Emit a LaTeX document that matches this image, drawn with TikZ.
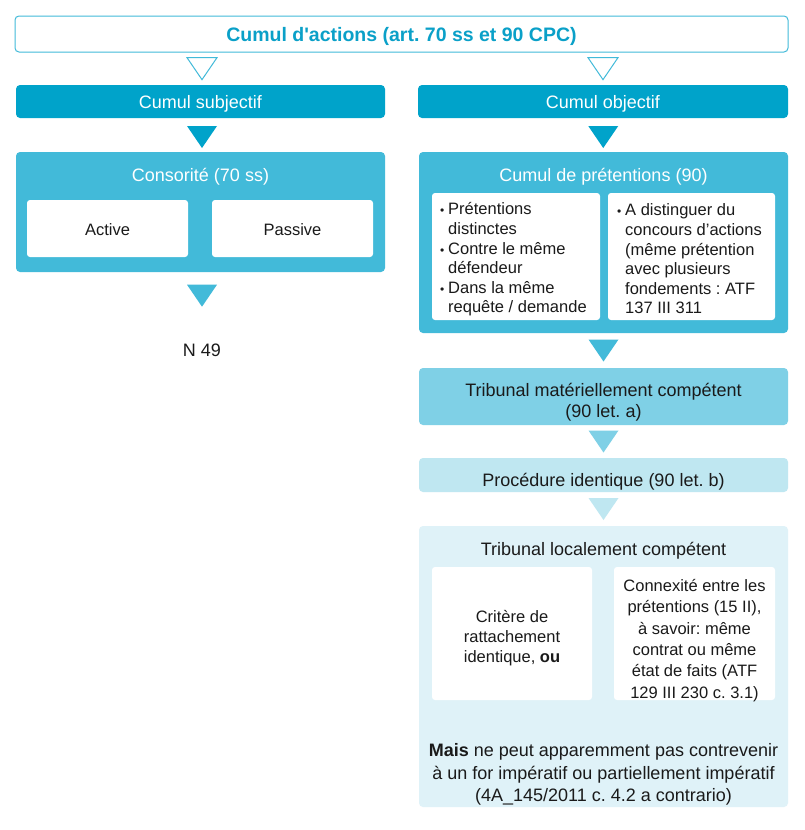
\documentclass[tikz,border=0pt]{standalone}
\usepackage{fontspec}
\setmainfont{Liberation Sans}[Ligatures=TeXOff]
\usetikzlibrary{calc}
\definecolor{cdark}{HTML}{00A3CA}
\definecolor{cmed}{HTML}{42BAD9}
\definecolor{clight}{HTML}{7FD0E6}
\definecolor{clighter}{HTML}{BFE7F1}
\definecolor{clightest}{HTML}{DFF2F8}
\definecolor{ctext}{HTML}{1A1A1A}
\definecolor{ctitle}{HTML}{0AA0C8}
\newcommand\bul{\makebox[8pt][l]{\fontsize{12}{12}\selectfont •}}
\newcommand\ind{\makebox[8pt]{}}
\frenchspacing
\begin{document}
\frenchspacing
\begin{tikzpicture}[x=1pt,y=-1pt,
  bx/.style 2 args={minimum width=#1pt, minimum height=#2pt, inner sep=0pt, rounded corners=4pt},
  hdr/.style={text=white, font=\fontsize{18}{21}\selectfont, inner sep=0pt},
  bodytxt/.style={text=ctext, font=\fontsize{16.5}{19.6}\selectfont, inner sep=0pt},
  bigtxt/.style={text=ctext, font=\fontsize{18}{21}\selectfont, inner sep=0pt, align=center},
  wbox/.style={fill=white, rounded corners=3pt},
  arrowtri/.pic={\path[pic actions] (-15,-11) -- (15,-11) -- (0,11) -- cycle;}
]
\useasboundingbox (0,0) rectangle (804,830);
\fill[white] (0,0) rectangle (804,830);

% title
\node[bx={773}{36}, draw=cmed, line width=1pt, fill=white] (title) at (401.5,34) {};
\node[text=ctitle, inner sep=0pt, font=\fontsize{19.5}{22}\selectfont\bfseries] (titleT) at (401.5,36) {Cumul d'actions (art. 70 ss et 90 CPC)};

% level 1
\node[bx={369}{33}, fill=cdark] (subj) at (200.5,101.5) {};
\node[hdr] (subjT) at (200.5,104) {Cumul subjectif};
\node[bx={370}{33}, fill=cdark] (obj) at (603,101.5) {};
\node[hdr] (objT) at (603,104) {Cumul objectif};

% left column
\node[bx={369}{120}, fill=cmed] (cons) at (200.5,212) {};
\node[hdr] (consT) at (200.5,177) {Consorité (70 ss)};
\node[bx={161}{57}, wbox] (active) at (107.5,228.5) {};
\node[bodytxt] (activeT) at (107.5,230) {Active};
\node[bx={161}{57}, wbox] (passive) at (292.5,228.5) {};
\node[bodytxt] (passiveT) at (292.5,230) {Passive};
\node[bigtxt] (n49) at (202,350) {N 49};

% right column
\node[bx={369}{181}, fill=cmed] (cumul) at (603.5,242.5) {};
\node[hdr] (cumulT) at (603.5,177) {Cumul de prétentions (90)};
\node[bx={168}{127}, wbox] (bl) at (516,256.5) {};
\node[bx={167}{127}, wbox] (br) at (691.5,256.5) {};
\node[bodytxt, align=left, anchor=west] (blT) at (440,259.5)
  {\bul Prétentions\\\ind distinctes\\\bul Contre le même\\\ind défendeur\\\bul Dans la même\\\ind requête / demande};
\node[bodytxt, align=left, anchor=west] (brT) at (617,259)
  {\bul A distinguer du\\\ind concours d’actions\\\ind (même prétention\\\ind avec plusieurs\\\ind fondements : ATF\\\ind 137 III 311};

\node[bx={369}{57}, fill=clight] (trib) at (603.5,396.5) {};
\node[bigtxt] (tribT) at (603.5,402.5) {Tribunal matériellement compétent\\(90 let. a)};
\node[bx={369}{34}, fill=clighter] (proc) at (603.5,475) {};
\node[bigtxt] (procT) at (603.5,482) {Procédure identique (90 let. b)};
\node[bx={369}{281}, fill=clightest] (loc) at (603.5,666.5) {};
\node[bigtxt] (locT) at (603.5,551) {Tribunal localement compétent};
\node[bx={160}{133}, wbox] (ll) at (512,633.5) {};
\node[bodytxt, align=center, font=\fontsize{16.5}{20}\selectfont] (llT) at (512,638.5)
  {Critère de\\rattachement\\identique, \textbf{ou}};
\node[bx={161}{133}, wbox] (lr) at (694.5,633.5) {};
\node[bodytxt, align=center, font=\fontsize{16.5}{21.3}\selectfont] (lrT) at (694.5,640.5)
  {Connexité entre les\\prétentions (15 II),\\à savoir: même\\contrat ou même\\état de faits (ATF\\129 III 230 c. 3.1)};
\node[bigtxt, font=\fontsize{18}{22.5}\selectfont] (mais) at (603.5,774.5)
  {\textbf{Mais} ne peut apparemment pas contrevenir\\à un for impératif ou partiellement impératif\\(4A\_145/2011 c. 4.2 a contrario)};

% triangles (connectors)
\pic[draw=cmed, fill=white, line width=1pt] at ($($(title.south -| subj.north)!0.5!(subj.north)$)+(1.5,0)$) {arrowtri};
\pic[draw=cmed, fill=white, line width=1pt] at ($(title.south -| obj.north)!0.5!(obj.north)$) {arrowtri};
\pic[fill=cdark] at ($($(subj.south)!0.5!(cons.north)$)+(1.5,2)$) {arrowtri};
\pic[fill=cdark] at ($(obj.south)!0.5!(cumul.north)+(0,2)$) {arrowtri};
\pic[fill=cmed] at ($(cons.south)+(1.5,23.5)$) {arrowtri};
\pic[fill=cmed] at ($(cumul.south)!0.5!(trib.north)$) {arrowtri};
\pic[fill=clight] at ($(trib.south)!0.5!(proc.north)$) {arrowtri};
\pic[fill=clighter] at ($(proc.south)!0.5!(loc.north)$) {arrowtri};
\end{tikzpicture}
\end{document}
